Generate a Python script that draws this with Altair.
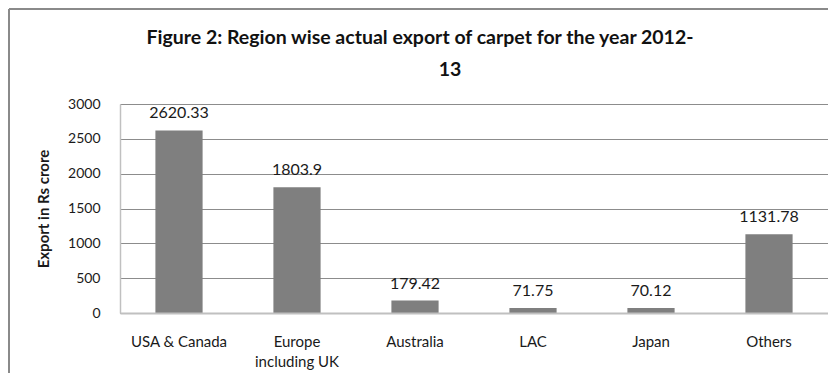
import altair as alt
import pandas as pd

regions = ["USA & Canada", "Europe including UK", "Australia", "LAC", "Japan", "Others"]
exports = [2620.33, 1803.9, 179.42, 71.75, 70.12, 1131.78]
labels = ["2620.33", "1803.9", "179.42", "71.75", "70.12", "1131.78"]
y_ticks = [0, 500, 1000, 1500, 2000, 2500, 3000]
title_lines = ["Figure 2: Region wise actual export of carpet for the year 2012-", "13"]

df = pd.DataFrame({"region": regions, "export": exports, "label": labels})
frame_df = pd.DataFrame({"k": [0]})

FONT = "Lato"
TXT = "#1a1a1a"

x_enc = alt.X(
    "region:N",
    sort=regions,
    title=None,
    scale=alt.Scale(paddingInner=0, paddingOuter=0),
    axis=alt.Axis(
        labelAngle=0,
        labelExpr="datum.value == 'Europe including UK' ? ['Europe', 'including UK'] : datum.value",
        labelFont=FONT,
        labelFontSize=15,
        labelColor=TXT,
        labelPadding=21,
        labelLineHeight=20,
        ticks=False,
        domain=True,
        domainColor="#c0c0c0",
        domainWidth=2,
        zindex=1,
    ),
)
y_enc = alt.Y(
    "export:Q",
    scale=alt.Scale(domain=[0, 3000], nice=False),
    title="Export in Rs crore",
    axis=alt.Axis(
        values=y_ticks,
        format="d",
        labelOverlap=False,
        grid=True,
        gridColor="#8c8c8c",
        gridWidth=1,
        domain=True,
        domainColor="#c0c0c0",
        domainWidth=1.5,
        ticks=False,
        labelFont=FONT,
        labelFontSize=14,
        labelColor=TXT,
        labelPadding=20,
        titleFont=FONT,
        titleFontSize=15,
        titleFontWeight="bold",
        titleColor=TXT,
        titleAngle=-90,
        titleX=-69,
        titleY=104.5,
        titleAlign="center",
        titleBaseline="bottom",
    ),
)

bars = alt.Chart(df).mark_bar(color="#7f7f7f", width=alt.RelativeBandSize(0.4)).encode(
    x=x_enc, y=y_enc
)
texts = alt.Chart(df).mark_text(
    baseline="alphabetic", dy=-12, fontSize=16, font=FONT, color=TXT
).encode(x=x_enc, y=y_enc, text="label:N")

title_df = pd.DataFrame({"t": title_lines, "line": [0, 1]})
title1 = alt.Chart(title_df.iloc[[0]]).mark_text(
    font=FONT, fontSize=19.5, fontWeight="bold", color="#111111", align="center", baseline="alphabetic"
).encode(text="t:N", x=alt.value(300), y=alt.value(-60))
title2 = alt.Chart(title_df.iloc[[1]]).mark_text(
    font=FONT, fontSize=19.5, fontWeight="bold", color="#111111", align="center", baseline="alphabetic"
).encode(text="t:N", x=alt.value(330), y=alt.value(-28))

top_border = alt.Chart(frame_df).mark_rule(color="#8a8a8a", strokeWidth=2).encode(
    x=alt.value(-111), x2=alt.value(760), y=alt.value(-95)
)
left_border = alt.Chart(frame_df).mark_rule(color="#8a8a8a", strokeWidth=2).encode(
    x=alt.value(-111), y=alt.value(-95), y2=alt.value(300)
)

chart = (
    alt.layer(bars, texts, title1, title2, top_border, left_border)
    .properties(
        width=708,
        height=209,
        autosize=alt.AutoSizeParams(type="none"),
        padding={"left": 112, "top": 96, "right": 0, "bottom": 60},
    )
    .configure_view(stroke=None)
    .configure(background="white")
)

chart.save("out.html", embed_options={"renderer": "svg", "actions": False})
